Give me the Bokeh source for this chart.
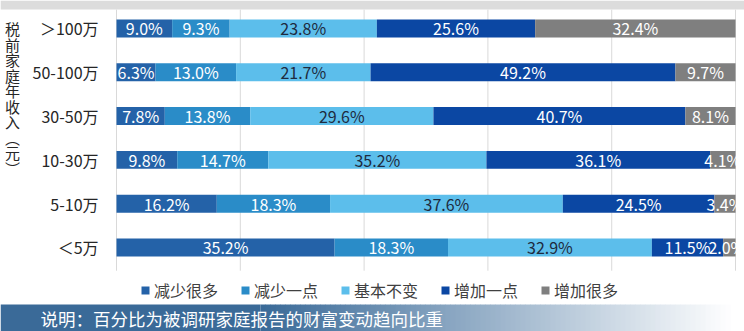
from bokeh.plotting import figure
from bokeh.models import Range1d, ColumnDataSource, Legend, LegendItem, Label, BoxAnnotation
from bokeh.core.properties import value
from bokeh.embed import file_html
from bokeh.resources import INLINE

# ---------------- data ----------------
categories = ["＜5万", "5-10万", "10-30万", "30-50万", "50-100万", "＞100万"]
series_names = ["减少很多", "减少一点", "基本不变", "增加一点", "增加很多"]
jianshao_henduo = [35.2, 16.2, 9.8, 7.8, 6.3, 9.0]
jianshao_yidian = [18.3, 18.3, 14.7, 13.8, 13.0, 9.3]
jiben_bubian = [32.9, 37.6, 35.2, 29.6, 21.7, 23.8]
zengjia_yidian = [11.5, 24.5, 36.1, 40.7, 49.2, 25.6]
zengjia_henduo = [2.0, 3.4, 4.1, 8.1, 9.7, 32.4]
grid_ticks = [0, 20, 40, 60, 80, 100]
axis_title = "税前家庭年收入︵元︶"
note_text = "说明：百分比为被调研家庭报告的财富变动趋向比重"

series_values = [jianshao_henduo, jianshao_yidian, jiben_bubian, zengjia_yidian, zengjia_henduo]
colors = ["#2462A8", "#2A8CC8", "#5CBEEB", "#0B47A3", "#7F7F7F"]
label_colors = ["#FFFFFF", "#FFFFFF", "#1E2B40", "#FFFFFF", "#FFFFFF"]

FONT = "Noto Sans CJK SC"
W, H = 744, 331

p = figure(width=W, height=H, output_backend="svg", toolbar_location=None,
           x_range=Range1d(-18.74, 101.45), y_range=Range1d(-1.918, 5.639),
           min_border=0, min_border_left=0, min_border_right=0,
           min_border_top=0, min_border_bottom=0)
p.axis.visible = False
p.grid.visible = False
p.outline_line_color = None
p.background_fill_color = "white"
p.border_fill_color = "white"

# top grey band
p.add_layout(BoxAnnotation(top=H, bottom=H - 9, top_units="screen", bottom_units="screen",
                           fill_color="#DCDCDC", fill_alpha=1, line_color=None, level="underlay"))

# vertical gridlines
p.segment(x0=grid_ticks, x1=grid_ticks, y0=[5.43] * len(grid_ticks), y1=[-0.53] * len(grid_ticks),
          line_color="#D9D9D9", line_width=1)

# stacked bars (100% normalisation as in the source chart)
idx = list(range(len(categories)))
totals = [sum(s[i] for s in series_values) for i in idx]
left = [0.0] * len(idx)
items = []
for k, vals in enumerate(series_values):
    norm = [vals[i] / totals[i] * 100 for i in idx]
    right = [left[i] + norm[i] for i in idx]
    mids = [min((left[i] + right[i]) / 2, 98.6) for i in idx]
    src = ColumnDataSource(dict(y=idx, left=left, right=right, mid=mids,
                                lab=["%.1f%%" % v for v in vals]))
    r = p.hbar(y="y", left="left", right="right", height=0.41, source=src,
               fill_color=colors[k], line_color=None)
    p.text(x="mid", y="y", text="lab", source=src, text_align="center", text_baseline="middle",
           text_color=label_colors[k], text_font=value(FONT), text_font_size="16px")
    items.append(LegendItem(label=series_names[k], renderers=[r]))
    left = right

# category labels
p.text(x=[-2.9] * len(idx), y=idx, text=categories, text_align="right", text_baseline="middle",
       text_color="#262626", text_font=value(FONT), text_font_size="16px")

# vertical axis title (stacked characters)
for j, ch in enumerate(axis_title):
    p.add_layout(Label(x=12, y=H - (28 + j * 15.5), x_units="screen", y_units="screen",
                       text=ch, text_align="center", text_baseline="middle",
                       text_font=FONT, text_font_size="15px", text_color="#262626"))

# legend
legend = Legend(items=items, orientation="horizontal", location=(140, 29),
                glyph_width=10, glyph_height=10, label_standoff=4, spacing=22,
                padding=0, margin=0, border_line_color=None, background_fill_alpha=0,
                label_text_font=FONT, label_text_font_size="16px", label_text_color="#404040")
p.add_layout(legend, "center")

# bottom gradient band
c0 = (0x3A, 0x6A, 0x98)
x_start, x_end = 260, 730
step = 5
p.add_layout(BoxAnnotation(left=0, right=x_start, top=27, bottom=0,
                           left_units="screen", right_units="screen", top_units="screen",
                           bottom_units="screen", fill_color="#%02x%02x%02x" % c0, fill_alpha=1,
                           line_color=None))
x = x_start
while x < x_end:
    t = (x - x_start) / (x_end - x_start)
    c = tuple(int(round(c0[i] + (255 - c0[i]) * t)) for i in range(3))
    p.add_layout(BoxAnnotation(left=x, right=x + step + 0.5, top=27, bottom=0,
                               left_units="screen", right_units="screen", top_units="screen",
                               bottom_units="screen", fill_color="#%02x%02x%02x" % c, fill_alpha=1,
                               line_color=None))
    x += step

p.add_layout(Label(x=40, y=13, x_units="screen", y_units="screen", text=note_text,
                   text_align="left", text_baseline="middle", text_font=FONT,
                   text_font_size="17.5px", text_color="white"))

open("out.html", "w").write(file_html(p, INLINE))
